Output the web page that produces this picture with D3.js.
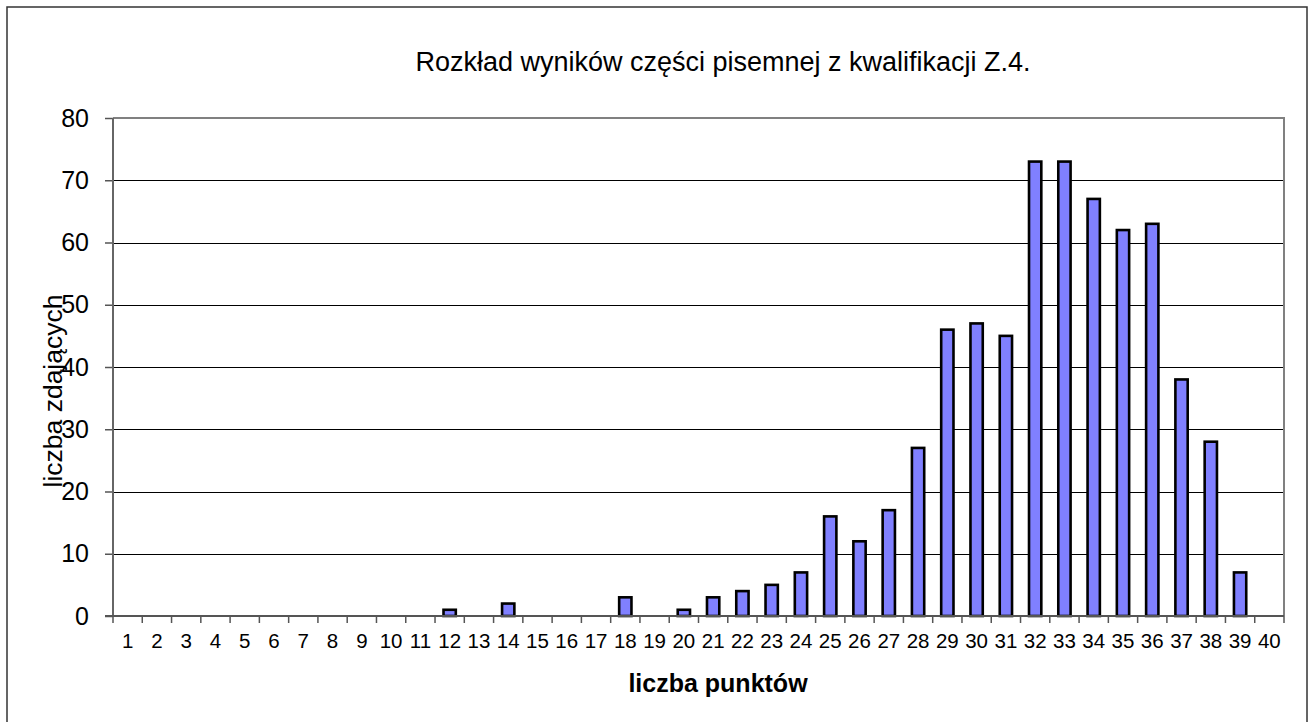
<!DOCTYPE html>
<meta charset="utf-8">
<style>
body { margin: 0; background: #fff; }
text { font-family: "Liberation Sans", Arial, sans-serif; fill: #000; }
.grid line { stroke: #000; stroke-width: 1px; shape-rendering: crispEdges; }
.axis--y path, .axis--x path { display: none; }
.axis--y .tick line { stroke: #555; stroke-width: 1.5px; }
.xticks line { stroke: #555; stroke-width: 1.5px; }
.bar { fill: #8080ff; stroke: #000; stroke-width: 2.6px; }
</style>
<svg width="1309" height="722"></svg>
<script src="https://d3js.org/d3.v7.min.js"></script>
<script>

var points = d3.range(1, 41);

var counts = [0, 0, 0, 0, 0, 0, 0, 0, 0, 0,
              0, 1, 0, 2, 0, 0, 0, 3, 0, 1,
              3, 4, 5, 7, 16, 12, 17, 27, 46, 47,
              45, 73, 73, 67, 62, 63, 38, 28, 7, 0];

var yTicks = [0, 10, 20, 30, 40, 50, 60, 70, 80];

var title = "Rozkład wyników części pisemnej z kwalifikacji Z.4.",
    xTitle = "liczba punktów",
    yTitle = "liczba zdających";

var data = points.map(function(p, i) { return {pkt: p, n: counts[i]}; });

var svg = d3.select("svg");

var plotL = 113, plotR = 1284, plotT = 118, plotB = 616;

var x = d3.scaleBand()
    .domain(points)
    .range([plotL, plotR])
    .paddingInner(0.58)
    .paddingOuter(0.29);

var xEdge = d3.scaleLinear().domain([0, 40]).range([plotL, plotR]);

var y = d3.scaleLinear().domain([0, 80]).range([plotB, plotT]);

// outer frame
svg.append("rect")
    .attr("x", 7).attr("y", 7)
    .attr("width", 1300).attr("height", 740)
    .attr("fill", "none")
    .attr("stroke", "#333")
    .attr("stroke-width", 1.5);

svg.append("text")
    .attr("x", 723).attr("y", 71)
    .attr("text-anchor", "middle")
    .style("font-size", "27px")
    .text(title);

// gridlines
svg.append("g")
    .attr("class", "grid")
  .selectAll("line")
  .data(yTicks.slice(1, -1))
  .enter().append("line")
    .attr("x1", plotL).attr("x2", plotR)
    .attr("y1", function(d) { return Math.round(y(d)) + 0.5; })
    .attr("y2", function(d) { return Math.round(y(d)) + 0.5; });

// plot area border (top, right)
svg.append("path")
    .attr("d", "M" + plotL + "," + plotT + "H" + plotR + "V" + plotB)
    .attr("fill", "none")
    .attr("stroke", "#808080")
    .attr("stroke-width", 2);

// bars
svg.append("g")
  .selectAll("rect")
  .data(data.filter(function(d) { return d.n > 0; }))
  .enter().append("rect")
    .attr("class", "bar")
    .attr("x", function(d) { return x(d.pkt); })
    .attr("y", function(d) { return y(d.n); })
    .attr("width", x.bandwidth())
    .attr("height", function(d) { return y(0) - y(d.n); });

// y axis
var yAxis = svg.append("g")
    .attr("class", "axis axis--y")
    .attr("transform", "translate(" + plotL + ",0)")
    .call(d3.axisLeft(y).tickValues(yTicks).tickSize(8).tickPadding(16));
yAxis.selectAll("text").style("font-size", "25px");

// x axis labels
var xAxis = svg.append("g")
    .attr("class", "axis axis--x")
    .attr("transform", "translate(0," + plotB + ")")
    .call(d3.axisBottom(x).tickSize(0).tickPadding(17));
xAxis.selectAll("text").style("font-size", "20.5px");

// x ticks at category edges
svg.append("g")
    .attr("class", "xticks")
  .selectAll("line")
  .data(d3.range(0, 41))
  .enter().append("line")
    .attr("x1", function(d) { return xEdge(d); })
    .attr("x2", function(d) { return xEdge(d); })
    .attr("y1", plotB).attr("y2", plotB + 7);

// axis lines
svg.append("line")
    .attr("x1", plotL).attr("x2", plotL)
    .attr("y1", plotT).attr("y2", plotB)
    .attr("stroke", "#666").attr("stroke-width", 2);
svg.append("line")
    .attr("x1", plotL - 8).attr("x2", plotR)
    .attr("y1", plotB).attr("y2", plotB)
    .attr("stroke", "#555").attr("stroke-width", 2);

svg.append("text")
    .attr("x", 718).attr("y", 692)
    .attr("text-anchor", "middle")
    .style("font-size", "25px")
    .style("font-weight", "bold")
    .text(xTitle);

svg.append("text")
    .attr("transform", "translate(62,391) rotate(-90)")
    .attr("text-anchor", "middle")
    .style("font-size", "26.5px")
    .text(yTitle);

</script>
